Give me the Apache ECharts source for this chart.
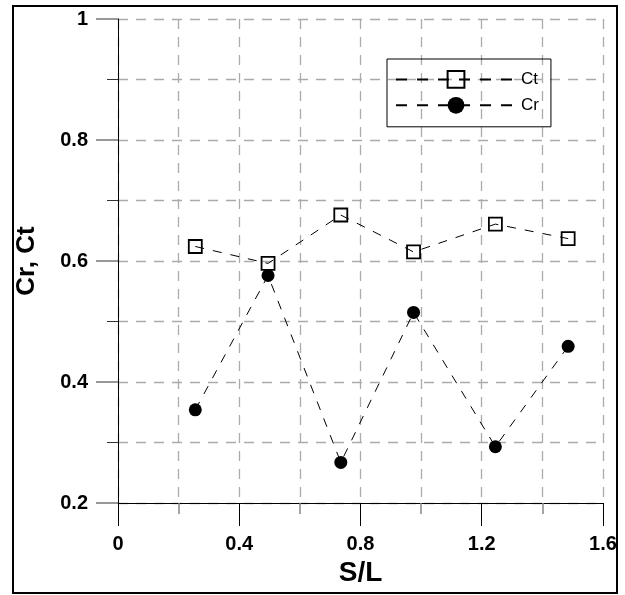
<!DOCTYPE html>
<html>
<head>
<meta charset="utf-8">
<script src="https://cdn.jsdelivr.net/npm/echarts@6/dist/echarts.min.js"></script>
<style>
html,body{margin:0;padding:0;background:#fff;}
#frame{position:absolute;left:12px;top:5px;width:602px;height:585px;border:2px solid #000;}
#chart{position:absolute;left:0;top:0;width:625px;height:595px;}
</style>
</head>
<body>
<div id="frame"></div>
<div id="chart"></div>
<script>
const sL = [0.255, 0.495, 0.735, 0.975, 1.245, 1.485];
const ctValues = [0.624, 0.596, 0.676, 0.615, 0.661, 0.637];
const crValues = [0.354, 0.576, 0.267, 0.515, 0.293, 0.459];
const xTicks = [0, 0.4, 0.8, 1.2, 1.6];
const yTicks = [0.2, 0.4, 0.6, 0.8, 1];

const font = 'Liberation Sans, Arial, sans-serif';
const gridLine = {color: '#ababab', width: 1.3, type: [10, 8]};

const chart = echarts.init(document.getElementById('chart'), null, {renderer: 'canvas'});
chart.setOption({
  animation: false,
  backgroundColor: 'transparent',
  grid: {left: 118, right: 22, top: 19, bottom: 92, containLabel: false},
  legend: {
    orient: 'vertical',
    left: 387, top: 59,
    padding: [11, 12, 13, 8],
    borderColor: '#000', borderWidth: 1,
    itemWidth: 120, itemHeight: 21, itemGap: 8,
    textStyle: {fontFamily: font, fontSize: 17, color: '#000'},
    lineStyle: {type: [11, 10]},
    data: ['Ct', 'Cr']
  },
  xAxis: {
    type: 'value', min: 0, max: 1.6, interval: 0.4,
    name: 'S/L', nameLocation: 'middle', nameGap: 56,
    nameTextStyle: {fontFamily: font, fontSize: 28, fontWeight: 'bold', color: '#000'},
    axisLine: {show: true, onZero: false, lineStyle: {color: '#000', width: 1}},
    axisTick: {show: true, length: 23, lineStyle: {color: '#000', width: 1}},
    minorTick: {show: true, splitNumber: 2, length: 11, lineStyle: {color: '#888', width: 1.5}},
    axisLabel: {margin: 31, fontFamily: font, fontSize: 20, fontWeight: 'bold', color: '#000',
      customValues: xTicks,
      formatter: v => String(+v.toFixed(1))},
    splitLine: {show: true, lineStyle: gridLine},
    minorSplitLine: {show: true, lineStyle: gridLine}
  },
  yAxis: {
    type: 'value', min: 0.2, max: 1, interval: 0.2,
    name: 'Cr, Ct', nameLocation: 'middle', nameGap: 78,
    nameTextStyle: {fontFamily: font, fontSize: 26, fontWeight: 'bold', color: '#000'},
    axisLine: {show: true, onZero: false, lineStyle: {color: '#000', width: 1}},
    axisTick: {show: true, length: 22, lineStyle: {color: '#777', width: 1.5}},
    minorTick: {show: true, splitNumber: 2, length: 11, lineStyle: {color: '#333', width: 1}},
    axisLabel: {margin: 30, fontFamily: font, fontSize: 20, fontWeight: 'bold', color: '#000',
      customValues: yTicks,
      formatter: v => String(+v.toFixed(1))},
    splitLine: {show: true, lineStyle: gridLine},
    minorSplitLine: {show: true, lineStyle: gridLine}
  },
  series: [
    {
      name: 'Ct', type: 'line',
      data: sL.map((x, i) => [x, ctValues[i]]),
      symbol: 'rect', symbolSize: 13,
      itemStyle: {color: 'transparent', borderColor: '#000', borderWidth: 1.8},
      lineStyle: {color: '#000', width: 1, type: [9, 9]},
      z: 3
    },
    {
      name: 'Cr', type: 'line',
      data: sL.map((x, i) => [x, crValues[i]]),
      symbol: 'circle', symbolSize: 13,
      itemStyle: {color: '#000', borderColor: '#000', borderWidth: 0},
      lineStyle: {color: '#000', width: 1, type: [9, 9]},
      z: 3
    }
  ]
});
</script>
</body>
</html>
